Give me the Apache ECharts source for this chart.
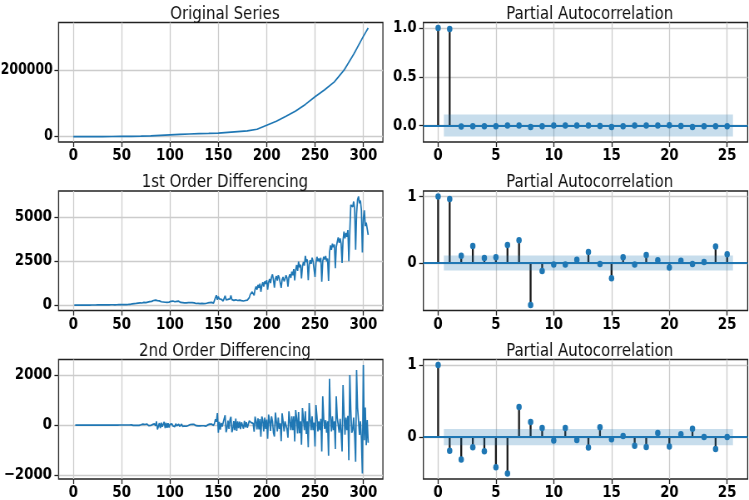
<!DOCTYPE html>
<html><head><meta charset="utf-8">
<script src="https://cdn.jsdelivr.net/npm/echarts@6/dist/echarts.min.js"></script>
<style>
html,body{margin:0;padding:0;overflow:hidden;background:#fff;width:749px;height:500px}
#wrap{width:749px;height:500px;overflow:hidden;position:relative}
#chart{width:900px;height:500px;transform:scaleX(0.83222);transform-origin:0 0}
</style></head><body><div id="wrap"><div id="chart"></div></div>
<script>
// ---------- data ----------
const origX = [0,10,20,30,40,50,60,70,80,90,100,110,120,130,140,150,160,170,180,190,200,210,220,230,240,250,260,270,280,290,300,305];
const origY = [0,10,40,120,260,450,600,1200,2300,3800,5200,6600,7700,8600,9500,10600,12800,15000,17200,22000,34000,46000,61000,77000,97000,120000,141000,165000,200000,248000,302000,327500];

// 1st order differencing, days 1..305
const diff1 = [
0,0,1,0,2,0,1,1,0,2,1,3,2,1,4,3,2,5,3,6,
4,7,5,8,6,9,7,10,8,12,10,13,11,15,12,14,16,13,18,15,
17,20,16,22,19,24,21,26,23,28,25,30,27,33,30,36,34,40,45,
55,70,62,85,78,95,88,110,102,125,
140,118,160,150,175,140,185,170,150,195,
180,210,240,260,310,280,230,250,205,240,
220,190,230,175,210,160,195,150,185,170,
200,215,180,230,205,190,240,210,185,220,
175,150,190,140,165,130,170,125,155,140,
120,145,105,135,95,125,110,90,130,100,
115,85,120,95,105,80,130,90,110,120,
95,135,105,150,120,110,
180,420,560,300,480,350,250,330,280,230,
380,530,300,260,320,280,350,540,310,250,
270,230,300,210,260,240,280,220,250,290,
230,300,260,320,280,250,420,600,
700,750,820,560,900,1050,880,1150,980,1220,
760,1100,1300,1050,1350,1200,1420,880,1300,1480,
1250,1600,1750,1450,1000,1500,1650,1400,1700,1550,
1620,980,1450,1600,1350,1500,1700,1550,1050,1600,
1750,1550,1900,1700,2050,1400,2000,2280,1950,2470,
2150,2300,1520,2200,2450,2250,2800,2450,2600,1420,
2300,2550,2350,2700,2500,2600,1600,2400,2750,2500,
2650,2450,2700,1330,2500,2750,2600,2800,2500,2650,
1370,3000,3400,3150,3500,3300,3450,2100,3300,3600,
3850,3550,3800,3500,2400,3700,4180,3800,4100,3900,
4275,2500,4200,5700,5800,5600,5900,5500,3150,5200,
6000,6190,5800,5950,5400,3000,4900,5400,4500,4700,
4650,4000
];

// 2nd order differencing, days 2..305
const diff2 = [
0,1,-1,2,-2,1,0,-1,2,-1,2,-1,-1,3,-1,-1,3,-2,3,-2,3,-2,3,-2,
3,-2,3,-2,4,-2,3,-2,4,-3,2,2,-3,5,-3,2,3,-4,6,-3,3,-5,5,-3,
5,-3,5,-3,6,-3,6,-2,6,5,
10,15,-8,23,-7,17,-7,22,-8,23,15,-22,42,-10,25,-35,45,-15,-20,45,-15,30,30,
20,50,-30,150,-170,-50,80,-120,100,-60,-90,130,-120,90,-110,80,-90,
30,-45,50,-35,25,-60,55,-30,-25,35,
-45,-25,40,-50,25,-35,40,-45,30,-15,
-20,25,-40,30,-40,30,-15,-20,40,-30,
15,-30,35,-25,10,-25,50,-40,20,10,
-25,40,-30,45,-30,-10,
70,240,140,480,-300,130,-180,80,-50,-50,
250,390,-280,-120,180,-150,210,330,-280,-150,
160,-200,260,-230,150,-120,140,-160,110,120,
-140,170,-90,120,-100,-80,170,180,
100,50,70,-260,340,150,-170,270,-170,240,
-460,340,200,-250,300,-150,220,-540,420,180,
-230,350,150,-300,-450,500,150,-250,300,-150,
70,-640,470,150,-250,150,200,-150,-500,550,
150,-200,350,-200,350,-650,600,280,-330,520,
-320,150,-780,680,250,-200,550,-350,150,-880,
880,250,-200,350,-200,100,-850,800,350,-250,
150,-200,250,-1050,1150,250,-150,200,-300,150,
-1220,1850,400,-250,350,-200,150,-950,1150,300,
250,-300,250,-300,-1050,1600,480,-380,300,-200,
375,-1400,2000,600,-300,-200,300,-400,-1460,2200,
700,190,-390,150,-550,-1930,2400,-600,700,-800,
200,-700
];

const lags = [0,1,2,3,4,5,6,7,8,9,10,11,12,13,14,15,16,17,18,19,20,21,22,23,24,25];
const pacfOrig = [1,0.99,-0.01,-0.007,-0.007,-0.007,0,0,-0.014,-0.007,0,0,0,0,-0.003,-0.014,-0.007,0,0,0,0.003,-0.003,-0.014,-0.007,-0.007,-0.007];
const pacfD1 = [1,0.96,0.11,0.256,0.075,0.085,0.27,0.34,-0.633,-0.12,-0.025,-0.025,0.05,0.166,-0.015,-0.23,0.085,-0.025,0.12,0.04,-0.07,0.035,-0.015,0.015,0.246,0.13];
const pacfD2 = [1,-0.19,-0.313,-0.143,-0.198,-0.42,-0.507,0.415,0.207,0.124,-0.05,0.124,-0.04,-0.147,0.134,-0.032,0.014,-0.12,-0.138,0.055,-0.13,0.037,0.115,0,-0.166,0];
const confHalf = [0.1124, 0.1126, 0.1128];
const bandLags = [0.5, 25.5];

const titles = ['Original Series','Partial Autocorrelation','1st Order Differencing','Partial Autocorrelation','2nd Order Differencing','Partial Autocorrelation'];
const leftXTicks = [0,50,100,150,200,250,300];
const lagTicks = [0,5,10,15,20,25];
const yTicks = [[0,200000],[0,0.5,1],[0,2500,5000],[0,1],[-2000,0,2000],[0,1]];

// ---------- layout ----------
const rowsTop = [22.5, 191, 359.5];
const rowH = 119.5;
const colLeft = [70.4, 508.7];
const colW = 389.7;
const W = 900;

function pad(lo, hi){ const m = (hi-lo)*0.05; return [lo-m, hi+m]; }

const grids = [], xAxes = [], yAxes = [], series = [], titleOpts = [];
const FONT = {fontFamily:'DejaVu Sans', fontSize:16, fontWeight:'bold', color:'#000'};
const fmtInt = v => String(v);
const fmt1 = v => v.toFixed(1);

function addPanel(idx, xr, xt, yr, yt, yfmt){
  const r = Math.floor(idx/2), c = idx%2;
  grids.push({left: colLeft[c], top: rowsTop[r], width: colW, height: rowH, containLabel:false, outerBoundsMode:'none',
    show:true, borderColor:'#222', borderWidth:1.3, backgroundColor:'#fff'});
  xAxes.push({type:'value', gridIndex: idx, min: xr[0], max: xr[1],
    axisLine:{show:false, onZero:false},
    axisTick:{show:true, length:5, customValues: xt, lineStyle:{color:'#222', width:1.3}},
    axisLabel:Object.assign({customValues: xt, margin:6, formatter: fmtInt}, FONT),
    splitLine:{show:true, lineStyle:{color:'#cccccc', width:1.3}}});
  yAxes.push({type:'value', gridIndex: idx, min: yr[0], max: yr[1],
    axisLine:{show:false, onZero:false},
    axisTick:{show:true, length:5, customValues: yt, lineStyle:{color:'#222', width:1.3}},
    axisLabel:Object.assign({customValues: yt, margin: idx === 0 ? 7 : 8, formatter: yfmt}, FONT, idx === 0 ? {fontSize:15} : {}),
    splitLine:{show:true, lineStyle:{color:'#cccccc', width:1.3}}});
  titleOpts.push({text: titles[idx], left: colLeft[c] + colW/2, top: rowsTop[r] - 22.5, textAlign:'center',
    textStyle:{fontFamily:'DejaVu Sans', fontSize:18, fontWeight:'normal', color:'#111'}});
}

function lineSeries(idx, data){
  series.push({type:'line', xAxisIndex: idx, yAxisIndex: idx, data, showSymbol:false, symbol:'none', clip:true,
    lineStyle:{color:'#1f77b4', width:1.7}, silent:true, z:3});
}

function pacfPanel(idx, vals, c){
  const pts = lags.map((l,i)=>[l, vals[i]]);
  series.push({type:'custom', xAxisIndex: idx, yAxisIndex: idx, z:2, silent:true, clip:true, data: pts,
    renderItem:(p,api)=>{const a=api.coord([api.value(0),0]); const b=api.coord([api.value(0),api.value(1)]);
      return {type:'line', shape:{x1:a[0],y1:a[1],x2:b[0],y2:b[1]}, style:{stroke:'#1a1a1a', lineWidth:2.3}};}});
  series.push({type:'scatter', xAxisIndex: idx, yAxisIndex: idx, z:4, symbolSize:6.5, silent:true,
    itemStyle:{color:'#1f77b4', opacity:1}, data: pts,
    markLine:{z:3, silent:true, symbol:'none', animation:false, label:{show:false},
      lineStyle:{color:'#1f77b4', width:1.8, type:'solid'}, data:[{yAxis:0}]}});
  series.push({type:'custom', xAxisIndex: idx, yAxisIndex: idx, z:5, silent:true, clip:true,
    data:[[bandLags[0], -c, bandLags[1], c]],
    renderItem:(p,api)=>{const a=api.coord([api.value(0), api.value(3)]); const b=api.coord([api.value(2), api.value(1)]);
      return {type:'rect', shape:{x:a[0], y:a[1], width:b[0]-a[0], height:b[1]-a[1]}, style:{fill:'rgba(31,119,180,0.25)'}};}});
}

// left column series
const d1 = diff1.map((v,i)=>[i+1, v]);
const d2 = diff2.map((v,i)=>[i+2, v]);
const o = origX.map((x,i)=>[x, origY[i]]);
const xLeft = pad(0, origX[origX.length-1]);
function pacfRange(v, c){ return pad(Math.min(Math.min(...v), -c), Math.max(Math.max(...v), c)); }
const xRight = pad(lags[0], bandLags[1]);

addPanel(0, xLeft, leftXTicks, pad(Math.min(...origY), Math.max(...origY)), yTicks[0], fmtInt);
lineSeries(0, o);
addPanel(1, xRight, lagTicks, pacfRange(pacfOrig, confHalf[0]), yTicks[1], fmt1);
pacfPanel(1, pacfOrig, confHalf[0]);
addPanel(2, xLeft, leftXTicks, pad(Math.min(...diff1), Math.max(...diff1)), yTicks[2], fmtInt);
lineSeries(2, d1);
addPanel(3, xRight, lagTicks, pacfRange(pacfD1, confHalf[1]), yTicks[3], fmtInt);
pacfPanel(3, pacfD1, confHalf[1]);
addPanel(4, xLeft, leftXTicks, pad(Math.min(...diff2), Math.max(...diff2)), yTicks[4], v => v < 0 ? '\u2212' + Math.abs(v) : String(v));
lineSeries(4, d2);
addPanel(5, xRight, lagTicks, pacfRange(pacfD2, confHalf[2]), yTicks[5], fmtInt);
pacfPanel(5, pacfD2, confHalf[2]);

const chart = echarts.init(document.getElementById('chart'), null, {renderer:'canvas', width: W, height: 500});
chart.setOption({
  backgroundColor:'#fff',
  animation:false,
  title: titleOpts,
  grid: grids,
  xAxis: xAxes,
  yAxis: yAxes,
  series: series
});
</script></body></html>
